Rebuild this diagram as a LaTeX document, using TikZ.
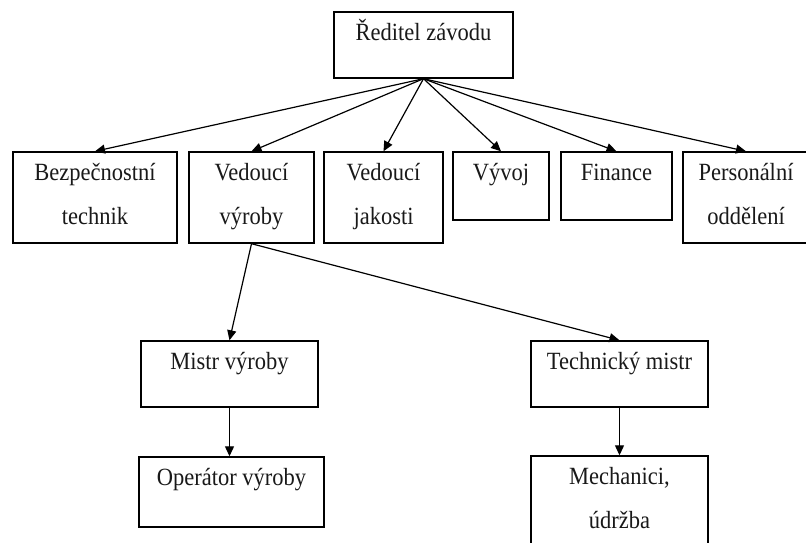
\documentclass[tikz,border=0pt]{standalone}
\usepackage{fontspec}
\setmainfont{Liberation Serif}
\usetikzlibrary{arrows.meta}
\tikzset{
  orgbox/.style={draw=black, line width=1.4pt, inner sep=0pt, rectangle},
  orgtxt/.style={inner sep=0pt, anchor=base, text=black!90, font=\fontsize{22.5}{40}\selectfont},
  orgarrow/.style={draw=black, line width=1.2pt, -{Triangle[length=10pt,width=9pt]}}
}
\newcommand{\stretchtxt}[1]{\scalebox{1}[1.1]{#1}}
\newcommand{\twolines}[2]{\scalebox{1}[1.1]{\begin{tabular}[t]{@{}c@{}}#1\\#2\end{tabular}}}
\begin{document}
\begin{tikzpicture}[x=1pt,y=-1pt]
\useasboundingbox[fill=white] (0,0) rectangle (806,543);
% boxes
\node[orgbox, minimum width=179pt, minimum height=66pt] (top) at (423.5,45) {};
\node[orgbox, minimum width=164pt, minimum height=91pt] (b1) at (95,197.5) {};
\node[orgbox, minimum width=125pt, minimum height=91pt] (b2) at (251.5,197.5) {};
\node[orgbox, minimum width=119pt, minimum height=91pt] (b3) at (383.5,197.5) {};
\node[orgbox, minimum width=96pt, minimum height=68pt] (b4) at (501,186) {};
\node[orgbox, minimum width=111pt, minimum height=68pt] (b5) at (616.5,186) {};
\node[orgbox, minimum width=126pt, minimum height=91pt] (b6) at (746,197.5) {};
\node[orgbox, minimum width=177pt, minimum height=66pt] (mistr) at (229.5,374) {};
\node[orgbox, minimum width=185pt, minimum height=70pt] (oper) at (231.5,492) {};
\node[orgbox, minimum width=177pt, minimum height=66pt] (tech) at (619.5,374) {};
\node[orgbox, minimum width=177pt, minimum height=104pt] (mech) at (619.5,508) {};
% texts
\node[orgtxt] (ttop) at ([yshift=-29pt]top.north) {\stretchtxt{Ředitel závodu}};
\node[orgtxt] (tb1) at ([yshift=-29.5pt]b1.north) {\twolines{Bezpečnostní}{technik}};
\node[orgtxt] (tb2) at ([yshift=-29.5pt]b2.north) {\twolines{Vedoucí}{výroby}};
\node[orgtxt] (tb3) at ([yshift=-29.5pt]b3.north) {\twolines{Vedoucí}{jakosti}};
\node[orgtxt] (tb4) at ([yshift=-29.5pt]b4.north) {\stretchtxt{Vývoj}};
\node[orgtxt] (tb5) at ([yshift=-29.5pt]b5.north) {\stretchtxt{Finance}};
\node[orgtxt] (tb6) at ([yshift=-29.5pt]b6.north) {\twolines{Personální}{oddělení}};
\node[orgtxt] (tmistr) at ([yshift=-29pt]mistr.north) {\stretchtxt{Mistr výroby}};
\node[orgtxt] (toper) at ([yshift=-29pt]oper.north) {\stretchtxt{Operátor výroby}};
\node[orgtxt] (ttech) at ([yshift=-29pt]tech.north) {\stretchtxt{Technický mistr}};
\node[orgtxt] (tmech) at ([yshift=-29pt]mech.north) {\twolines{Mechanici,}{údržba}};
% connectors
\foreach \t in {b1,b2,b3,b4,b5,b6}
  \draw[orgarrow] (top.south) -- (\t.north);
\draw[orgarrow] (b2.south) -- (mistr.north);
\draw[orgarrow] (b2.south) -- (tech.north);
\draw[orgarrow] (mistr.south) -- (mistr.south |- oper.north);
\draw[orgarrow] (tech.south) -- (mech.north);
\end{tikzpicture}
\end{document}
